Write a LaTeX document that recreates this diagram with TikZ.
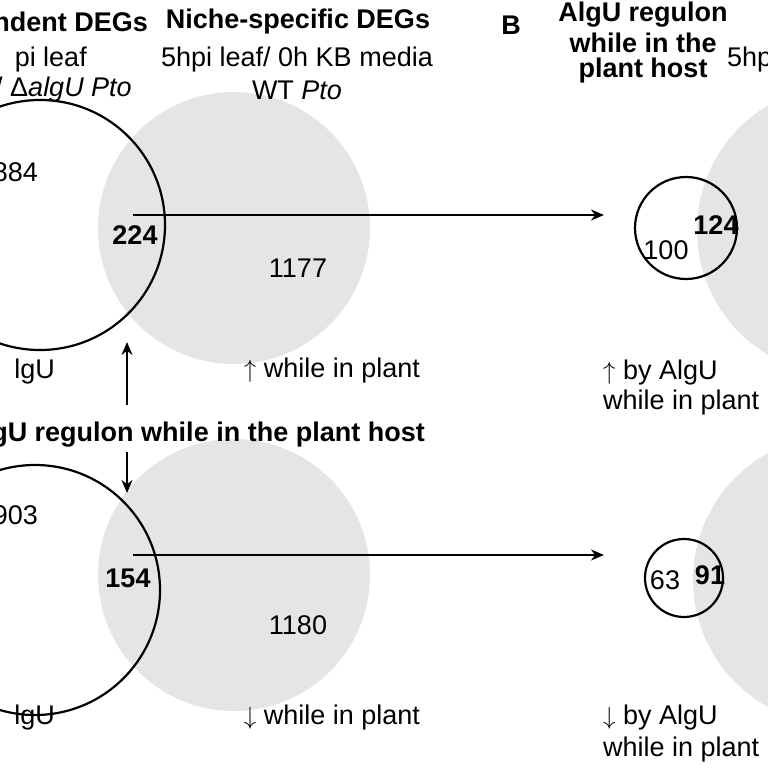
\documentclass[tikz,border=0pt]{standalone}
\usepackage{fontspec}
\setmainfont{Liberation Sans}
\usetikzlibrary{arrows.meta,positioning}
\definecolor{nichegray}{gray}{0.9}
\tikzset{
  niche/.style={circle,fill=nichegray,inner sep=0pt},
  algu/.style={circle,draw,line width=2.2pt,inner sep=0pt},
  lbl/.style={inner sep=0pt,font=\fontsize{27}{32}\selectfont},
  blbl/.style={lbl,font=\fontsize{27}{32}\selectfont\bfseries},
  link/.style={-{Stealth[length=13pt,width=11pt]},line width=1.8pt}
}
\begin{document}
\begin{tikzpicture}[x=1pt,y=-1pt]
\useasboundingbox (0,0) rectangle (768,768);

% venn circles
\node[niche,minimum size=272pt] (NU) at (234,228) {};
\node[niche,minimum size=272pt] (ND) at (234,575) {};
\node[niche,minimum size=290pt] (RU) at (842,230) {};
\node[niche,minimum size=290pt] (RD) at (838,580) {};
\node[algu,minimum size=250pt] (AU) at (40,225) {};
\node[algu,minimum size=250pt] (AD) at (35,590) {};
\node[algu,minimum size=102pt] (SU) at (686,228) {};
\node[algu,minimum size=78pt] (SD) at (684,578) {};

% arrows
\coordinate (fromU) at (133,215);
\coordinate (toU) at (604,215);
\coordinate (fromD) at (133,555);
\coordinate (toD) at (604,555);
\coordinate (upS) at (127,405);
\coordinate (upE) at (127,342);
\coordinate (dnS) at (127,452);
\coordinate (dnE) at (127,493);
\draw[link] (fromU) -- (toU);
\draw[link] (fromD) -- (toD);
\draw[link] (upS) -- (upE);
\draw[link] (dnS) -- (dnE);

% headings
\node[blbl,anchor=east] (h1) at (148,22) {ndent DEGs};
\node[lbl,anchor=east] (h1a) at (87,60) {pi leaf};
\node[lbl,anchor=east] (h1b) at (132,90) {/ Δ\textit{algU Pto}};
\node[blbl] (h2) at (298,22) {Niche-specific DEGs};
\node[lbl] (h2a) at (297,60) {5hpi leaf/ 0h KB media};
\node[lbl] (h2b) at (297,90) {WT \textit{Pto}};
\node[blbl] (hB) at (511,25) {B};
\node[blbl] (h3a) at (643,15) {AlgU regulon};
\node[blbl] (h3b) at (643,43) {while in the};
\node[blbl] (h3c) at (643,71) {plant host};
\node[lbl,anchor=west] (h4) at (727,60) {5hp};
\node[blbl] (hM) at (208,435) {gU regulon while in the plant host};

% counts
\node[lbl,anchor=east] at (38,172) {884};
\node[blbl] at (135,235) {224};
\node[lbl] at (298,268) {1177};
\node[lbl,anchor=east] at (38,515) {903};
\node[blbl] at (128,578) {154};
\node[lbl] at (298,625) {1180};
\node[blbl] at (716,225) {124};
\node[lbl] at (666,250) {100};
\node[lbl] at (665,580) {63};
\node[blbl] at (710,575) {91};

% bottom labels
\node[lbl,anchor=east] at (55,372) {lgU};
\node[lbl] at (332,371) {$\uparrow$ while in plant};
\node[lbl,anchor=east] at (55,718) {lgU};
\node[lbl] at (332,718) {$\downarrow$ while in plant};
\node[lbl,anchor=west] at (603,373) {$\uparrow$ by AlgU};
\node[lbl,anchor=west] at (603,403) {while in plant};
\node[lbl,anchor=west] at (603,718) {$\downarrow$ by AlgU};
\node[lbl,anchor=west] at (603,750) {while in plant};
\end{tikzpicture}
\end{document}
